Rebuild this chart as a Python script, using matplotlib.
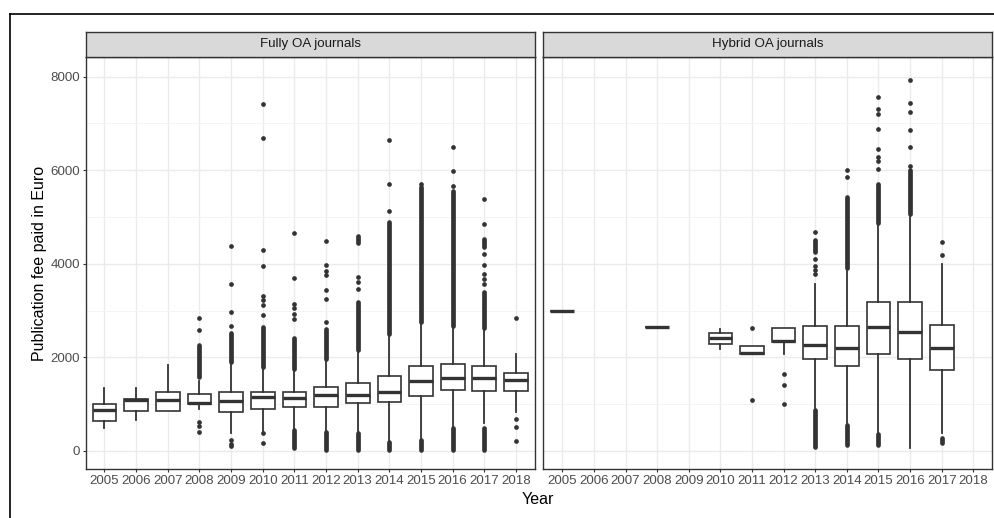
import matplotlib
matplotlib.use("Agg")
import matplotlib.pyplot as plt
from matplotlib.lines import Line2D

plt.rcParams['font.family'] = ['Liberation Sans', 'DejaVu Sans']

years = ['2005', '2006', '2007', '2008', '2009', '2010', '2011',
         '2012', '2013', '2014', '2015', '2016', '2017', '2018']
panels = ['Fully OA journals', 'Hybrid OA journals']

# Fully OA: box stats (EUR)
full_q1 = [646, 853, 853, 996, 839, 903, 932, 932, 1017, 1038, 1180, 1301, 1273, 1280]
full_med = [875, 1080, 1088, 1031, 1074, 1145, 1138, 1195, 1195, 1265, 1493, 1550, 1564, 1508]
full_q3 = [1003, 1109, 1265, 1216, 1259, 1259, 1259, 1359, 1457, 1606, 1813, 1856, 1813, 1670]
full_lo = [484, 661, 850, 900, 391, 412, 450, 420, 400, 200, 250, 518, 597, 839]
full_hi = [1350, 1350, 1835, 1493, 1870, 1743, 1692, 1920, 2118, 2475, 2720, 2638, 2603, 2063]
full_pts = [
    [], [], [],
    [2581, 2830, 626, 533, 412],
    [2667, 2958, 3577, 4380, 234, 150, 100],
    [2894, 3115, 3221, 3307, 3947, 4303, 6684, 7410, 384, 170],
    [2816, 2922, 3050, 3136, 3690, 4658],
    [2758, 3236, 3434, 3755, 3846, 3968, 4487],
    [3470, 3600, 3718],
    [5126, 5710, 6656],
    [5696],
    [5653, 5979, 6507],
    [3577, 3684, 3776, 3968, 4203, 4842, 5376],
    [2830, 676, 519, 220],
]
# ranges where the outliers are so dense they merge into a bar
full_bands = [
    [], [], [],
    [(1585, 2260)],
    [(1900, 2520)],
    [(1800, 2650)],
    [(1750, 2410), (50, 440)],
    [(1960, 2600), (20, 400)],
    [(2150, 3185), (4440, 4590), (20, 380)],
    [(2500, 4890), (20, 190)],
    [(2750, 5650), (20, 230)],
    [(2660, 5550), (20, 490)],
    [(2630, 3400), (4360, 4540), (20, 490)],
    [],
]

# Hybrid OA
hyb_q1 = [2990, None, None, 2650, None, 2276, 2069, 2319, 1963, 1820, 2063, 1956, 1735, None]
hyb_med = [2990, None, None, 2650, None, 2403, 2098, 2353, 2254, 2204, 2645, 2545, 2204, None]
hyb_q3 = [2990, None, None, 2650, None, 2510, 2240, 2624, 2674, 2660, 3185, 3185, 2682, None]
hyb_lo = [2990, None, None, 2650, None, 2182, 2069, 2063, 910, 590, 377, 60, 377, None]
hyb_hi = [2990, None, None, 2650, None, 2609, 2240, 2624, 3577, 3850, 4850, 5035, 3989, None]
hyb_pts = [
    [], [], [], [], [], [],
    [2624, 1088],
    [1635, 1401, 996],
    [3776, 3875, 3953, 4096, 4679],
    [5852, 5995],
    [6030, 6208, 6279, 6457, 6884, 7211, 7317, 7558],
    [6100, 6492, 6863, 7239, 7431, 7936],
    [4181, 4466],
    [],
]
hyb_bands = [
    [], [], [], [], [], [], [], [],
    [(90, 880), (4250, 4500)],
    [(3900, 5425), (120, 560)],
    [(4880, 5710), (120, 350)],
    [(5060, 5995)],
    [(177, 277)],
    [],
]

dark = '#333333'
W, H = 994, 518
fig = plt.figure(figsize=(W / 100, H / 100), dpi=100)


def fx(px):
    return px / W


def fy(py):
    return 1 - py / H


def draw_panel(x0, x1, title, q1, med, q3, lo, hi, pts, bands, show_y):
    ax = fig.add_axes([fx(x0), fy(469.3), fx(x1 - x0), fy(57.3) - fy(469.3)])
    stats, pos = [], []
    for i in range(len(years)):
        if med[i] is None:
            continue
        stats.append(dict(med=med[i], q1=q1[i], q3=q3[i], whislo=lo[i],
                          whishi=hi[i], fliers=pts[i]))
        pos.append(i + 1)
    ax.bxp(stats, positions=pos, widths=0.75, patch_artist=True, showcaps=False,
           boxprops=dict(facecolor='white', edgecolor=dark, linewidth=1.2),
           medianprops=dict(color=dark, linewidth=2.4, solid_capstyle='butt'),
           whiskerprops=dict(color=dark, linewidth=1.3),
           flierprops=dict(marker='o', markersize=3.4, markerfacecolor=dark,
                           markeredgecolor='none'),
           zorder=3)
    for i, bl in enumerate(bands):
        for (a, b) in bl:
            ax.vlines(i + 1, a, b, color=dark, linewidth=3.4, capstyle='round', zorder=2)
    ax.set_xlim(0.4, 14.6)
    ax.set_ylim(-395, 8415)
    ax.set_xticks(range(1, 15))
    ax.set_xticklabels(years)
    ax.set_yticks([0, 2000, 4000, 6000, 8000])
    ax.set_yticks([1000, 3000, 5000, 7000], minor=True)
    ax.grid(True, which='major', color='#EBEBEB', linewidth=1.0, zorder=0)
    ax.grid(True, which='minor', axis='y', color='#F2F2F2', linewidth=0.6, zorder=0)
    ax.set_axisbelow(True)
    ax.tick_params(axis='both', which='major', length=2.5, width=0.8, color=dark,
                   labelsize=9.6, labelcolor='#4D4D4D', pad=1.5)
    ax.tick_params(axis='y', which='minor', length=0)
    if not show_y:
        ax.tick_params(axis='y', which='major', length=0, labelleft=False)
    for s in ax.spines.values():
        s.set_color(dark)
        s.set_linewidth(1.0)
    # facet strip
    st = fig.add_axes([fx(x0), fy(57.3), fx(x1 - x0), fy(31.7) - fy(57.3)])
    st.set_facecolor('#D9D9D9')
    st.set_xticks([])
    st.set_yticks([])
    for s in st.spines.values():
        s.set_color(dark)
        s.set_linewidth(1.0)
    st.text(0.5, 0.5, title, ha='center', va='center', fontsize=9.6, color='#1A1A1A',
            transform=st.transAxes)
    return ax


draw_panel(85.5, 535, panels[0], full_q1, full_med, full_q3, full_lo, full_hi,
           full_pts, full_bands, True)
draw_panel(543.3, 992.3, panels[1], hyb_q1, hyb_med, hyb_q3, hyb_lo, hyb_hi,
           hyb_pts, hyb_bands, False)

fig.text(fx(40), fy(263), 'Publication fee paid in Euro', rotation=90,
         ha='center', va='center', fontsize=11.5, color='black')
fig.text(fx(538), fy(500), 'Year', ha='center', va='center', fontsize=11.5, color='black')

# outer frame (left and top edges visible)
fig.add_artist(Line2D([fx(9.5), fx(9.5)], [fy(14), 0], color='black', linewidth=1.2))
fig.add_artist(Line2D([fx(9.5), 1], [fy(14), fy(14)], color='black', linewidth=1.2))

fig.savefig('out.png', dpi=100)
